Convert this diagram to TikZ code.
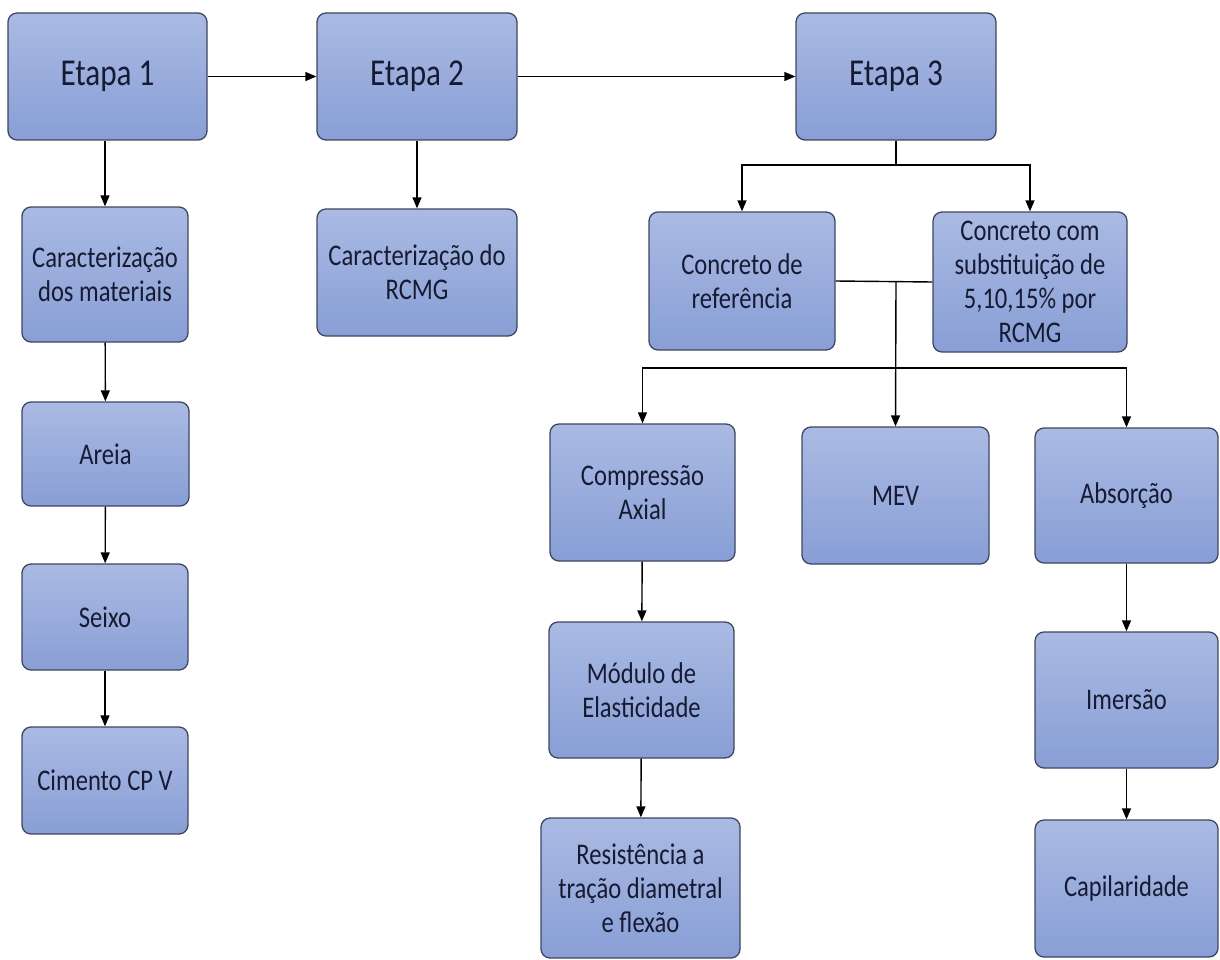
\documentclass[tikz,border=0pt]{standalone}
\usepackage{fontspec}
\setmainfont{Carlito}[FakeStretch=0.82]
\usetikzlibrary{arrows.meta}

\definecolor{boxtop}{HTML}{AABAE3}
\definecolor{boxbot}{HTML}{889ED5}
\definecolor{boxline}{HTML}{3E4660}
\definecolor{ink}{HTML}{161B33}

\tikzset{
  stepbox/.style={draw=boxline, line width=1.3pt, rounded corners=9pt,
    top color=boxtop, bottom color=boxbot, inner sep=0pt, text=ink,
    align=center, font=\fontsize{30}{34}\selectfont},
  bigbox/.style={stepbox, font=\fontsize{38}{42}\selectfont},
  link/.style={line width=1.4pt, draw=black},
  arr/.style={link, -{Triangle[length=11pt,width=9pt]}}
}

\begin{document}
\begin{tikzpicture}[x=1pt,y=-1pt]
\useasboundingbox (0,0) rectangle (1220,960);

% stages
\node[bigbox, minimum width=199, minimum height=127] (e1) at (107.5,76.5) {Etapa 1};
\node[bigbox, minimum width=200, minimum height=127] (e2) at (417,76.5) {Etapa 2};
\node[bigbox, minimum width=200, minimum height=127] (e3) at (896,76.5) {Etapa 3};

% stage 1 column
\node[stepbox, minimum width=166, minimum height=135] (cm) at (105,274.5) {Caracterização\\dos materiais};
\node[stepbox, minimum width=167, minimum height=104] (ar) at (105.5,454) {Areia};
\node[stepbox, minimum width=166, minimum height=106] (se) at (105,617) {Seixo};
\node[stepbox, minimum width=166, minimum height=107] (ci) at (105,780.5) {Cimento CP V};

% stage 2
\node[stepbox, minimum width=200, minimum height=127] (cr) at (417,272.5) {Caracterização do\\RCMG};

% stage 3: concretes
\node[stepbox, minimum width=186, minimum height=138] (ref) at (742,281) {Concreto de\\referência};
\node[stepbox, minimum width=194, minimum height=140] (sub) at (1030,282) {Concreto com\\substituição de\\5,10,15\% por\\RCMG};

% stage 3: tests
\node[stepbox, minimum width=185, minimum height=137] (comp) at (642.5,492.5) {Compressão\\Axial};
\node[stepbox, minimum width=187, minimum height=137] (mev) at (895.5,495.5) {MEV};
\node[stepbox, minimum width=183, minimum height=135] (abs) at (1126.5,495.5) {Absorção};
\node[stepbox, minimum width=185, minimum height=136] (mod) at (641.5,690) {Módulo de\\Elasticidade};
\node[stepbox, minimum width=199, minimum height=140] (res) at (640.5,888) {Resistência a\\tração diametral\\e flexão};
\node[stepbox, minimum width=183, minimum height=136] (ime) at (1126.5,700) {Imersão};
\node[stepbox, minimum width=183, minimum height=137] (cap) at (1126.5,888.5) {Capilaridade};

% horizontal chain of stages
\draw[arr] (e1.east) -- (e2.west);
\draw[arr] (e2.east) -- (e3.west);

% stage 1 chain
\draw[arr] (e1.south -| cm.north) -- (cm.north);
\draw[arr] (cm) -- (ar);
\draw[arr] (ar) -- (se);
\draw[arr] (se) -- (ci);

% stage 2
\draw[arr] (e2) -- (cr);

% stage 3 fork to the two concretes
\coordinate (fk) at (896,165);
\draw[link] (e3.south) -- (fk);
\draw[arr] (fk) -| (ref.north);
\draw[arr] (fk) -| (sub.north);

% both concretes feed the tests
\draw[link] (ref.east) -- (sub.west);
\coordinate (jn) at (896,282);
\coordinate (bus) at (896,368);
\draw[arr] (jn) -- (mev.north);
\draw[arr] (bus) -| (comp.north);
\draw[arr] (bus) -| (abs.north);

% test chains
\draw[arr] (comp) -- (mod);
\draw[arr] (mod) -- (res);
\draw[arr] (abs) -- (ime);
\draw[arr] (ime) -- (cap);
\end{tikzpicture}
\end{document}
